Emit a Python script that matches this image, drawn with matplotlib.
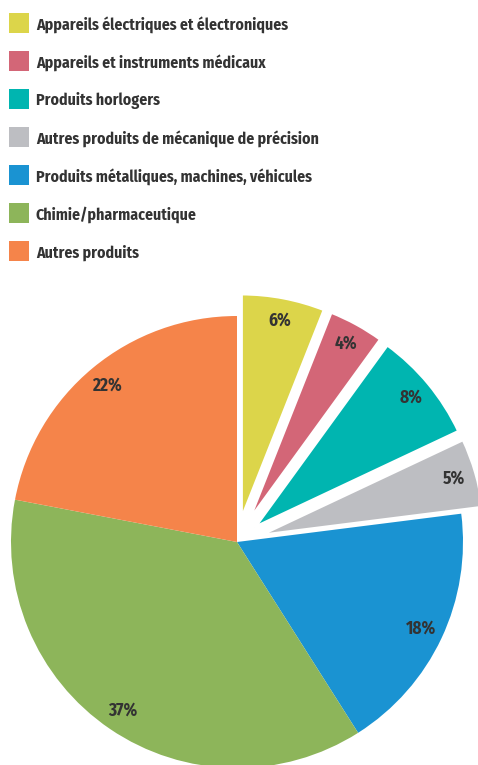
import matplotlib.pyplot as plt
from matplotlib import font_manager
from matplotlib.patches import Rectangle

# Répartition des exportations par secteur (%)
labels = [
    "Appareils électriques et électroniques",
    "Appareils et instruments médicaux",
    "Produits horlogers",
    "Autres produits de mécanique de précision",
    "Produits métalliques, machines, véhicules",
    "Chimie/pharmaceutique",
    "Autres produits",
]
values = [6, 4, 8, 5, 18, 37, 22]
colors = ["#DCD54A", "#D36677", "#00B5B0", "#BDBEC2", "#1A93D2", "#8DB55A", "#F5844A"]
detached = [True, True, True, True, False, False, False]

# police étroite si disponible
available = set(f.name for f in font_manager.fontManager.ttflist)
family = "DejaVu Sans"
for name in ["Fira Sans Condensed", "PT Sans Narrow", "Roboto Condensed", "Open Sans Condensed"]:
    if name in available:
        family = name
        break
font = [family, "DejaVu Sans"]
txt_color = "#333333"

W, H = 478, 765
R = 226
fig = plt.figure(figsize=(W / 100, H / 100), dpi=100)
ax = fig.add_axes([0, 0, 1, 1])

# explode de matplotlib est en unités de données : on le met à l'échelle du rayon
explode = [0.1 * R if d else 0 for d in detached]

wedges, texts, autotexts = ax.pie(
    values, colors=colors, explode=explode, startangle=90, counterclock=False,
    center=(237, 223), radius=R, autopct="%d%%", pctdistance=0.9,
    wedgeprops=dict(linewidth=0),
    textprops=dict(fontsize=12.5, fontweight="bold", color=txt_color, family=font),
)
for w, d in zip(wedges, detached):
    if d:
        w.set_edgecolor("white")
        w.set_linewidth(2.4)

ax.set_xlim(0, W)
ax.set_ylim(0, H)
ax.set_aspect("equal")
ax.axis("off")

# légende
for i, (lab, col) in enumerate(zip(labels, colors)):
    y = H - 23 - i * 38
    ax.add_patch(Rectangle((9, y - 10), 20, 20, facecolor=col, edgecolor="none"))
    ax.text(36, y - 6.3, lab, fontsize=11.4, fontweight="bold", color=txt_color,
            family=font, va="baseline", ha="left")

fig.savefig("out.png", dpi=100)
